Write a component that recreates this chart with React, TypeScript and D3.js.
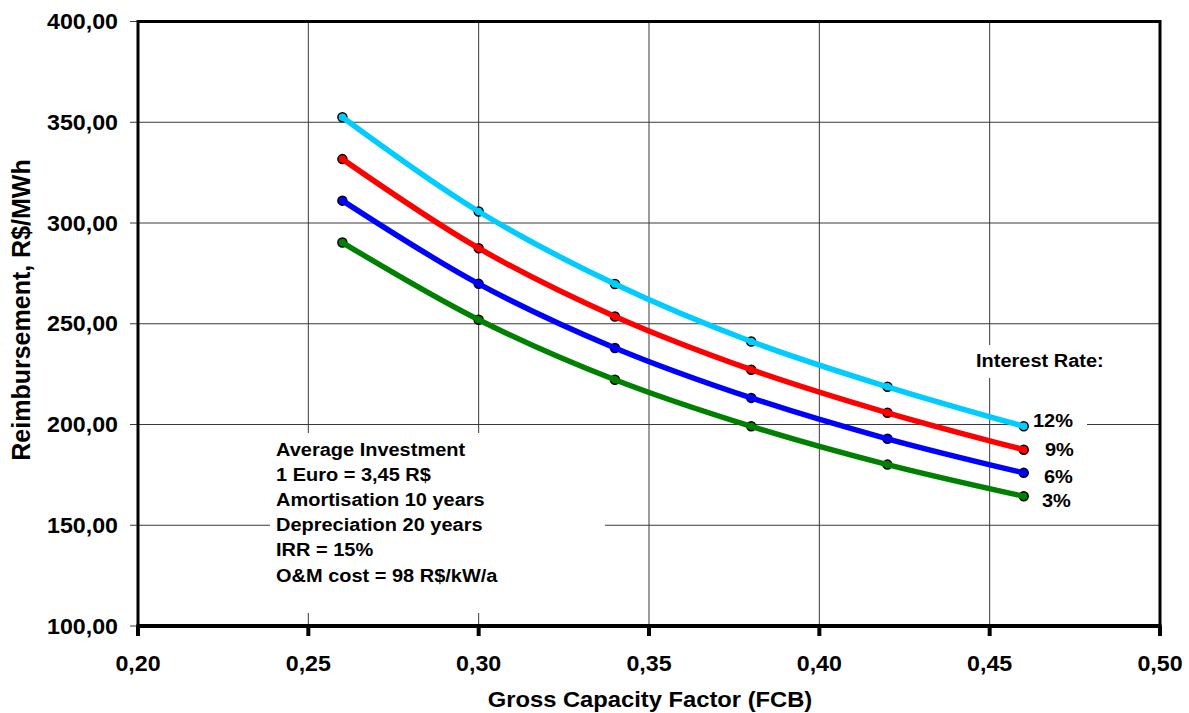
import React from "react";
import * as d3 from "d3";

const capacityFactors = [0.26, 0.3, 0.34, 0.38, 0.42, 0.46];
const rate12 = [352.5, 305.7, 269.7, 241.2, 218.7, 199.1];
const rate9 = [331.7, 287.5, 253.6, 227.2, 205.8, 187.5];
const rate6 = [311.1, 269.8, 238.0, 213.2, 192.9, 176.0];
const rate3 = [290.3, 252.0, 222.2, 199.1, 180.1, 164.4];
const seriesNames = ["12%", "9%", "6%", "3%"];
const seriesColors = ["#00CCFF", "#FF0000", "#0000FF", "#008000"];
const xTicks = [0.2, 0.25, 0.3, 0.35, 0.4, 0.45, 0.5];
const yTicks = [100, 150, 200, 250, 300, 350, 400];
const notes = [
  "Average Investment",
  "1 Euro = 3,45 R$",
  "Amortisation 10 years",
  "Depreciation 20 years",
  "IRR = 15%",
  "O&M cost = 98 R$/kW/a",
];

const W = 1189;
const H = 713;
const left = 138;
const right = 1160;
const top = 21.5;
const bottom = 626;
const SX = 1.08;
const FONT = "'Liberation Sans', Arial, sans-serif";

export default function App() {
  const x = d3.scaleLinear().domain([0.2, 0.5]).range([left, right]);
  const y = d3.scaleLinear().domain([100, 400]).range([bottom, top]);
  const allSeries = [rate12, rate9, rate6, rate3];
  const line = d3
    .line<[number, number]>()
    .x((d) => x(d[0]))
    .y((d) => y(d[1]))
    .curve(d3.curveCatmullRom.alpha(0.5));
  const fmt = (v: number, n: number) => v.toFixed(n).replace(".", ",");
  const labelXs = [1033, 1045, 1044, 1042];
  const labelYs = [420, 449, 476, 500];
  return (
    <svg
      width={W}
      height={H}
      style={{ position: "absolute", left: 0, top: 0, background: "#fff" }}
      fontFamily={FONT}
      fontWeight="bold"
    >
      <rect x={0} y={0} width={W} height={H} fill="#fff" />
      {/* grid */}
      {xTicks.slice(1, -1).map((t) => (
        <line key={"gx" + t} x1={x(t)} x2={x(t)} y1={top} y2={bottom} stroke="#3a3a3a" strokeWidth={1} />
      ))}
      {yTicks.slice(1, -1).map((t) => (
        <line key={"gy" + t} x1={left} x2={right} y1={y(t)} y2={y(t)} stroke="#3a3a3a" strokeWidth={1} />
      ))}
      {/* white boxes behind text */}
      <rect x={270} y={433} width={335} height={180} fill="#fff" />
      <rect x={968} y={345} width={145} height={33} fill="#fff" />
      <rect x={1028} y={406} width={59} height={106} fill="#fff" />
      {/* y ticks */}
      {yTicks.map((t) => (
        <line key={"yt" + t} x1={130} x2={left} y1={y(t)} y2={y(t)} stroke="#3a3a3a" strokeWidth={1} />
      ))}
      {/* x ticks */}
      {xTicks.map((t) => (
        <line key={"xt" + t} x1={x(t)} x2={x(t)} y1={bottom} y2={bottom + 10} stroke="#000" strokeWidth={4} />
      ))}
      {/* frame */}
      <line x1={left} x2={right} y1={top} y2={top} stroke="#000" strokeWidth={3} />
      <line x1={right} x2={right} y1={top - 1.5} y2={bottom} stroke="#000" strokeWidth={3} />
      <line x1={left} x2={left} y1={top - 1.5} y2={bottom} stroke="#000" strokeWidth={3} />
      <line x1={left - 1.5} x2={right + 1.5} y1={bottom} y2={bottom} stroke="#000" strokeWidth={4} />
      {/* series */}
      {allSeries.map((s, i) => (
        <g key={"s" + i}>
          {s.map((v, j) => (
            <circle key={j} cx={x(capacityFactors[j])} cy={y(v)} r={4.5} fill={seriesColors[i]} stroke="#000" strokeWidth={1.5} />
          ))}
          <path
            d={line(capacityFactors.map((c, j) => [c, s[j]] as [number, number])) || ""}
            fill="none"
            stroke={seriesColors[i]}
            strokeWidth={5.5}
          />
        </g>
      ))}
      {/* y tick labels */}
      {yTicks.map((t) => (
        <text
          key={"yl" + t}
          transform={`translate(118,${y(t) + 7.5}) scale(${SX},1)`}
          textAnchor="end"
          fontSize={21.5}
          fill="#000"
        >
          {fmt(t, 2)}
        </text>
      ))}
      {/* x tick labels */}
      {xTicks.map((t) => (
        <text
          key={"xl" + t}
          transform={`translate(${x(t)},670.5) scale(${SX},1)`}
          textAnchor="middle"
          fontSize={21.5}
          fill="#000"
        >
          {fmt(t, 2)}
        </text>
      ))}
      {/* axis titles */}
      <text transform={`translate(650,707) scale(${SX},1)`} textAnchor="middle" fontSize={22} fill="#000">
        Gross Capacity Factor (FCB)
      </text>
      <text transform={`translate(30,310) rotate(-90)`} textAnchor="middle" fontSize={25} fill="#000">
        Reimbursement, R$/MWh
      </text>
      {/* notes */}
      {notes.map((n, i) => (
        <text
          key={"n" + i}
          transform={`translate(276,${455.5 + i * 25.2}) scale(${SX},1)`}
          fontSize={18.5}
          fill="#000"
        >
          {n}
        </text>
      ))}
      {/* legend */}
      <text transform={`translate(976,367) scale(${SX},1)`} fontSize={18.5} fill="#000">
        Interest Rate:
      </text>
      {seriesNames.map((n, i) => (
        <text
          key={"l" + i}
          transform={`translate(${labelXs[i]},${labelYs[i] + 6.5}) scale(${SX},1)`}
          fontSize={18.5}
          fill="#000"
        >
          {n}
        </text>
      ))}
    </svg>
  );
}
